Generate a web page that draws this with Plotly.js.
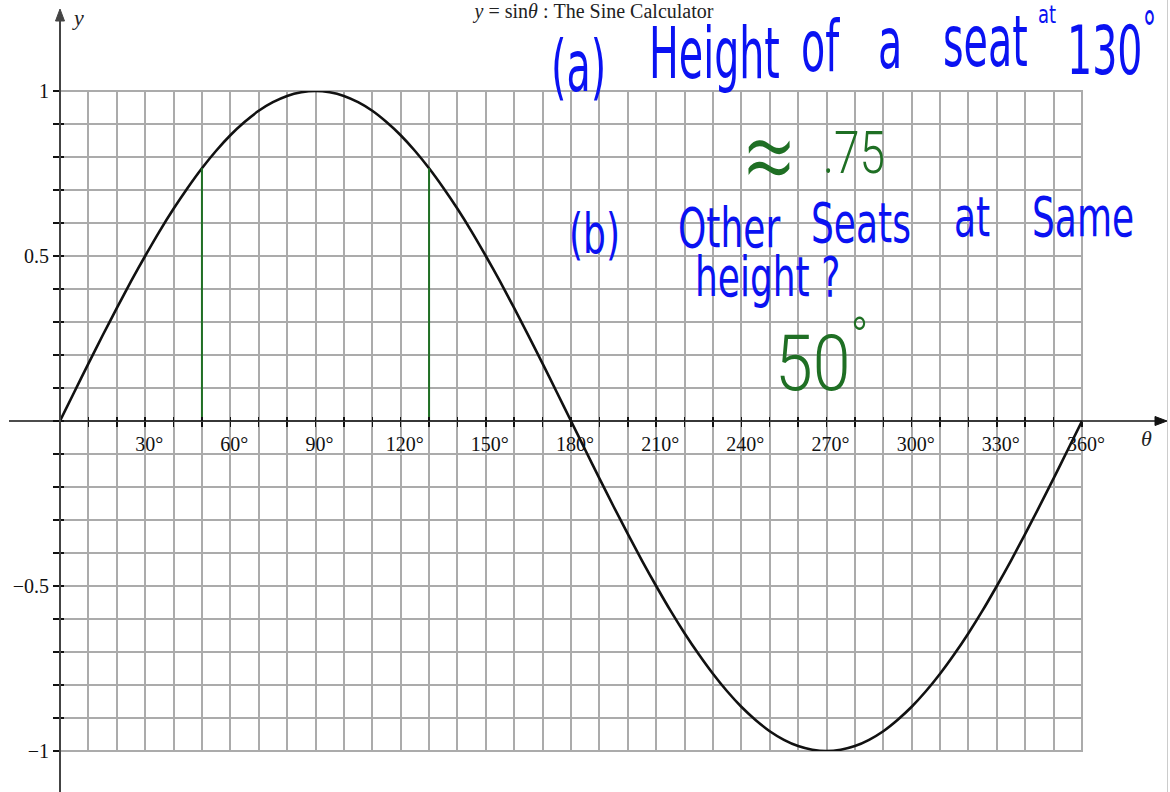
<!DOCTYPE html>
<html>
<head>
<meta charset="utf-8">
<script src="https://cdn.plot.ly/plotly-3.0.1.min.js"></script>
<style>
  html, body { margin: 0; padding: 0; background: #ffffff; }
  #chart { width: 1170px; height: 792px; }
</style>
</head>
<body>
<div id="chart"></div>
<script>
// Sine curve sampled every 5 degrees
const angles = [0, 5, 10, 15, 20, 25, 30, 35, 40, 45, 50, 55, 60, 65, 70, 75, 80, 85, 90,
                95, 100, 105, 110, 115, 120, 125, 130, 135, 140, 145, 150, 155, 160, 165, 170, 175, 180,
                185, 190, 195, 200, 205, 210, 215, 220, 225, 230, 235, 240, 245, 250, 255, 260, 265, 270,
                275, 280, 285, 290, 295, 300, 305, 310, 315, 320, 325, 330, 335, 340, 345, 350, 355, 360];
const sineValues = [0, 0.087, 0.174, 0.259, 0.342, 0.423, 0.5, 0.574, 0.643, 0.707, 0.766, 0.819, 0.866, 0.906, 0.94, 0.966, 0.985, 0.996, 1,
                    0.996, 0.985, 0.966, 0.94, 0.906, 0.866, 0.819, 0.766, 0.707, 0.643, 0.574, 0.5, 0.423, 0.342, 0.259, 0.174, 0.087, 0,
                    -0.087, -0.174, -0.259, -0.342, -0.423, -0.5, -0.574, -0.643, -0.707, -0.766, -0.819, -0.866, -0.906, -0.94, -0.966, -0.985, -0.996, -1,
                    -0.996, -0.985, -0.966, -0.94, -0.906, -0.866, -0.819, -0.766, -0.707, -0.643, -0.574, -0.5, -0.423, -0.342, -0.259, -0.174, -0.087, 0];

// Seat positions marked on the wheel
const seatAngles = [50, 130];
const seatHeights = [0.766, 0.766];

// Axis ticks and labels
const xTickVals = [30, 60, 90, 120, 150, 180, 210, 240, 270, 300, 330, 360];
const xTickText = ['30°', '60°', '90°', '120°', '150°', '180°', '210°', '240°', '270°', '300°', '330°', '360°'];
const xMinorVals = [0, 10, 20, 30, 40, 50, 60, 70, 80, 90, 100, 110, 120, 130, 140, 150, 160, 170, 180,
                    190, 200, 210, 220, 230, 240, 250, 260, 270, 280, 290, 300, 310, 320, 330, 340, 350, 360];
const yTickVals = [-1, -0.5, 0.5, 1];
const yTickText = ['\u22121', '\u22120.5', '0.5', '1'];
const yMinorVals = [-1, -0.9, -0.8, -0.7, -0.6, -0.5, -0.4, -0.3, -0.2, -0.1, 0,
                    0.1, 0.2, 0.3, 0.4, 0.5, 0.6, 0.7, 0.8, 0.9, 1];

// Handwritten notes
const PEN_BLUE = '#0a12f2';
const PEN_GREEN = '#1f6f24';
const penFont = 'DejaVu Sans Condensed, DejaVu Sans, sans-serif';
const thinFont = 'Roboto, Open Sans, sans-serif';

// page geometry of the plotting area
const M = { l: 60, r: 88, t: 91, b: 41 };
const W = 1170, H = 792;
const PW = W - M.l - M.r, PH = H - M.t - M.b;
const PX = px => (px - M.l) / PW;
const PY = py => (H - M.b - py) / PH;

const notes = [
  // line (a)
  { text: '(a)', px: 578, py: 66, size: 44, k: 1.6, color: PEN_BLUE, font: penFont },
  { text: 'Height', px: 714, py: 54, size: 44, k: 1.6, color: PEN_BLUE, font: penFont },
  { text: 'of', px: 820, py: 46, size: 44, k: 1.6, color: PEN_BLUE, font: penFont },
  { text: 'a', px: 890, py: 44, size: 44, k: 1.6, color: PEN_BLUE, font: penFont },
  { text: 'seat', px: 985, py: 41, size: 44, k: 1.6, color: PEN_BLUE, font: penFont },
  { text: 'at', px: 1047, py: 15, size: 20, k: 1.2, color: PEN_BLUE, font: penFont },
  { text: '130<sup>°</sup>', px: 1111, py: 45, size: 44, k: 1.55, color: PEN_BLUE, font: penFont },
  // line (b)
  { text: '(b)', px: 594, py: 233, size: 40, k: 1.4, color: PEN_BLUE, font: penFont },
  { text: 'Other', px: 729, py: 227, size: 40, k: 1.4, color: PEN_BLUE, font: penFont },
  { text: 'Seats', px: 861, py: 222, size: 40, k: 1.4, color: PEN_BLUE, font: penFont },
  { text: 'at', px: 972, py: 216, size: 40, k: 1.4, color: PEN_BLUE, font: penFont },
  { text: 'Same', px: 1083, py: 216, size: 40, k: 1.4, color: PEN_BLUE, font: penFont },
  { text: 'height ?', px: 767, py: 276, size: 40, k: 1.4, color: PEN_BLUE, font: penFont },
  // answers
  { text: '≈', px: 769, py: 156, size: 90, k: 1.2, color: PEN_GREEN, font: thinFont },
  { text: '.75', px: 854, py: 152, size: 46, k: 1.3, color: PEN_GREEN, font: thinFont },
  { text: '50<sup>°</sup>', px: 821, py: 358, size: 68, k: 1.15, color: PEN_GREEN, font: thinFont }
];

const serif = 'Liberation Serif, Times New Roman, serif';

const data = [
  {
    x: angles, y: sineValues, type: 'scatter', mode: 'lines',
    line: { color: '#111111', width: 2.6, shape: 'spline', smoothing: 0.6 },
    hoverinfo: 'skip', showlegend: false
  }
];
seatAngles.forEach((a, i) => {
  data.push({
    x: [a, a], y: [0, seatHeights[i]], type: 'scatter', mode: 'lines',
    xaxis: 'x2', yaxis: 'y2',
    line: { color: PEN_GREEN, width: 2 },
    hoverinfo: 'skip', showlegend: false
  });
});

const gridColor = '#ababab';

const annotations = [
  {
    xref: 'paper', yref: 'paper', x: PX(78), y: PY(17), text: '<i>y</i>', showarrow: false,
    font: { family: serif, size: 22, color: '#222222' }, xanchor: 'center', yanchor: 'middle'
  },
  {
    xref: 'paper', yref: 'paper', x: PX(1146), y: PY(438), text: '<i>θ</i>', showarrow: false,
    font: { family: serif, size: 22, color: '#222222' }, xanchor: 'center', yanchor: 'middle'
  }
];
const stretch = annotations.map(() => 1);
notes.forEach(n => {
  annotations.push({
    xref: 'paper', yref: 'paper', x: PX(n.px), y: PY(n.py), text: n.text, showarrow: false,
    font: { family: n.font, size: n.size, color: n.color, weight: n.font === thinFont ? 300 : 400 },
    xanchor: 'center', yanchor: 'middle'
  });
  stretch.push(n.k);
});

// triangle arrowhead (page pixels) turned into a paper-space path
const arrowPath = pts => 'M' + pts.map(p => PX(p[0]) + ',' + PY(p[1])).join(' L') + ' Z';

const layout = {
  width: W, height: H,
  margin: M,
  paper_bgcolor: '#ffffff', plot_bgcolor: '#ffffff',
  showlegend: false,
  title: {
    text: '<i>y</i> = sin<i>θ</i> : The Sine Calculator',
    font: { family: serif, size: 20, color: '#222222' },
    xref: 'paper', x: PX(594), xanchor: 'center',
    yref: 'container', y: 1 - 11 / H, yanchor: 'middle'
  },
  xaxis: {
    range: [0, 360], anchor: 'free', position: 0.5,
    tickmode: 'array', tickvals: xTickVals, ticktext: xTickText,
    ticks: 'outside', ticklen: 5, tickwidth: 1.5, tickcolor: '#111111',
    tickfont: { family: serif, size: 20, color: '#111111' }, ticklabelshift: 4,
    showgrid: true, gridcolor: gridColor, gridwidth: 2,
    minor: { tickmode: 'array', tickvals: xMinorVals, ticks: 'outside', ticklen: 5, tickwidth: 1.5,
             tickcolor: '#111111', showgrid: true, gridcolor: gridColor, gridwidth: 2 },
    zeroline: false, showline: false, fixedrange: true
  },
  yaxis: {
    range: [-1, 1],
    tickmode: 'array', tickvals: yTickVals, ticktext: yTickText,
    ticks: 'outside', ticklen: 6, tickwidth: 1.5, tickcolor: '#111111',
    tickfont: { family: serif, size: 20, color: '#111111' },
    showgrid: true, gridcolor: gridColor, gridwidth: 2,
    minor: { tickmode: 'array', tickvals: yMinorVals, ticks: 'outside', ticklen: 6, tickwidth: 1.5,
             tickcolor: '#111111', showgrid: true, gridcolor: gridColor, gridwidth: 2 },
    zeroline: false, showline: false, fixedrange: true
  },
  // companion axes carry the inner half of the crossing ticks
  xaxis2: {
    range: [0, 360], overlaying: 'x', anchor: 'free', position: 0.5,
    tickmode: 'array', tickvals: xMinorVals, ticks: 'inside', ticklen: 4, tickwidth: 1.5, tickcolor: '#111111',
    showticklabels: false, showgrid: false, zeroline: false, showline: false, fixedrange: true
  },
  yaxis2: {
    range: [-1, 1], overlaying: 'y', anchor: 'x2', side: 'left',
    tickmode: 'array', tickvals: yMinorVals, ticks: 'inside', ticklen: 4, tickwidth: 1.5, tickcolor: '#111111',
    showticklabels: false, showgrid: false, zeroline: false, showline: false, fixedrange: true
  },
  shapes: [
    // outer border of the grid
    {
      type: 'rect', xref: 'paper', yref: 'paper', x0: 0, x1: 1, y0: 0, y1: 1,
      line: { color: gridColor, width: 2 }, layer: 'below'
    },
    // theta axis line and arrowhead
    {
      type: 'line', xref: 'paper', yref: 'paper', x0: PX(9), x1: PX(1158), y0: 0.5, y1: 0.5,
      line: { color: '#111111', width: 1.6 }
    },
    {
      type: 'path', xref: 'paper', yref: 'paper',
      path: arrowPath([[1167, 421], [1155, 416.5], [1155, 425.5]]),
      fillcolor: '#111111', line: { color: '#111111', width: 1 }
    },
    // y axis line and arrowhead
    {
      type: 'line', xref: 'paper', yref: 'paper', x0: 0, x1: 0, y0: PY(800), y1: PY(18),
      line: { color: '#444444', width: 2 }
    },
    {
      type: 'path', xref: 'paper', yref: 'paper',
      path: arrowPath([[60, 9], [55.5, 21], [64.5, 21]]),
      fillcolor: '#444444', line: { color: '#444444', width: 1 }
    },
    {
      type: 'line', xref: 'paper', yref: 'paper',
      x0: PX(1167.5), x1: PX(1167.5), y0: PY(H), y1: PY(0),
      line: { color: '#cccccc', width: 1 }
    }
  ],
  annotations: annotations
};

Plotly.newPlot('chart', data, layout, { staticPlot: true, displayModeBar: false }).then(gd => {
  // handwriting is taller and narrower than the type face: stretch the pen notes vertically
  gd.querySelectorAll('g.annotation').forEach(g => {
    const k = stretch[+g.getAttribute('data-index')];
    if (k && k !== 1) {
      const t = g.querySelector('text.annotation-text');
      if (t) {
        t.style.transformBox = 'fill-box';
        t.style.transformOrigin = 'center';
        t.style.transform = 'scaleY(' + k + ')';
      }
    }
  });
});
</script>
</body>
</html>
